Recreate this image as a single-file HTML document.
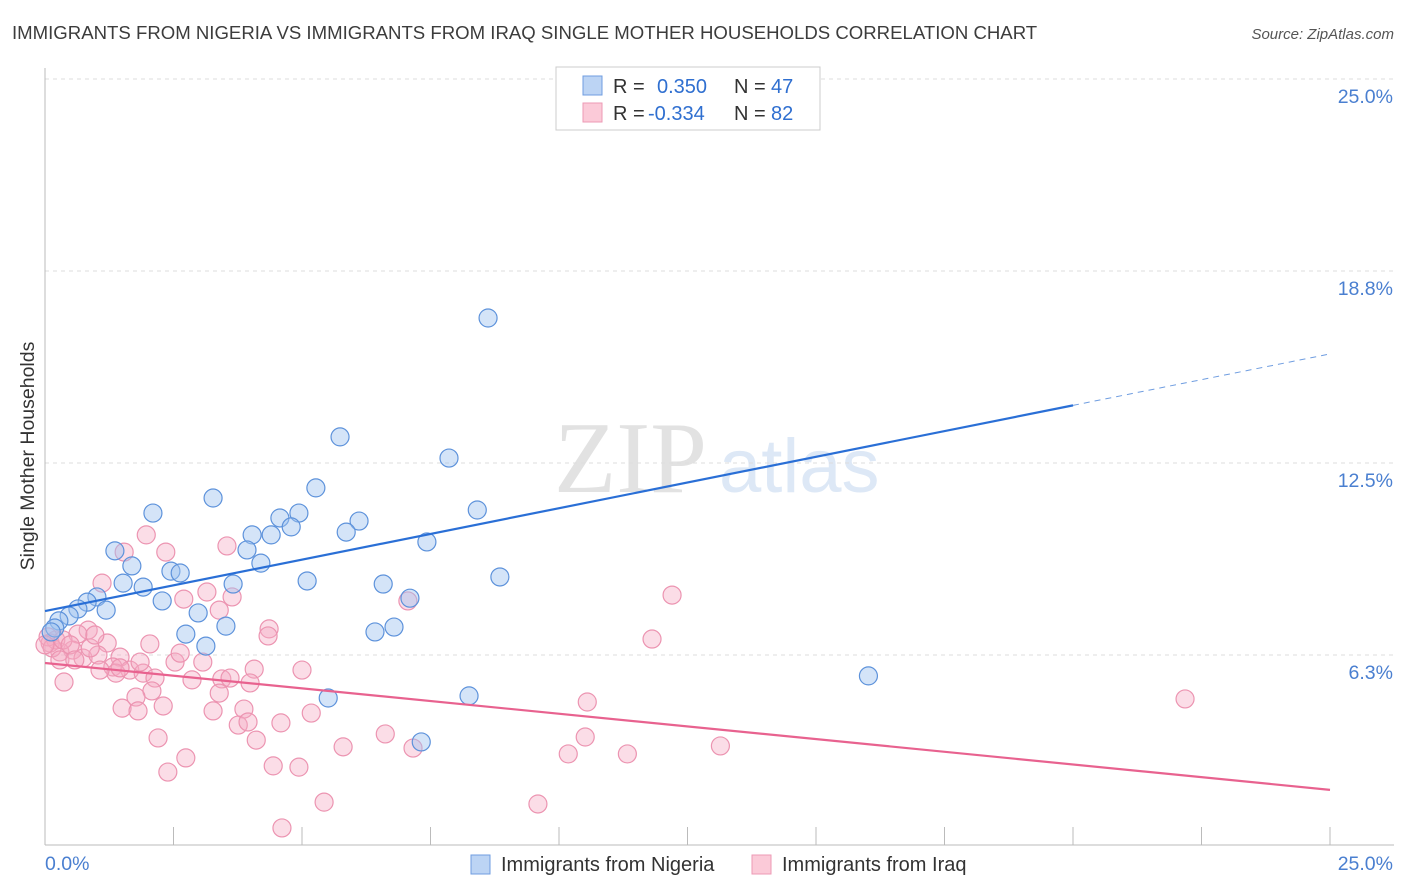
<!DOCTYPE html>
<html><head><meta charset="utf-8"><style>
body{margin:0;background:#fff;font-family:"Liberation Sans",sans-serif}
svg{display:block}
</style></head><body>
<svg id="c" width="1406" height="892">
<text x="12" y="39" font-size="18.6" fill="#3c3c3c">IMMIGRANTS FROM NIGERIA VS IMMIGRANTS FROM IRAQ SINGLE MOTHER HOUSEHOLDS CORRELATION CHART</text>
<text x="1394" y="39" font-size="15" fill="#555" font-style="italic" text-anchor="end">Source: ZipAtlas.com</text>
<g><text x="554" y="492" font-size="102" fill="#e2e2e2" font-family="Liberation Serif,serif">ZIP</text><text x="719" y="492" font-size="76" fill="#dde8f6">atlas</text></g>
<g id="grid"></g>
<g id="pts"></g>
<g id="lines"></g>
<text x="34" y="456" font-size="19.5" fill="#333" text-anchor="middle" transform="rotate(-90 34 456)">Single Mother Households</text>
<g>
<rect x="556" y="67" width="264" height="63" fill="#fff" stroke="#ccc"/>
<rect x="583" y="76" width="19" height="19" fill="#bcd4f4" stroke="#6f9de0"/>
<rect x="583" y="103" width="19" height="19" fill="#fbcad8" stroke="#ec9ab5"/>
<text x="613" y="93" font-size="20" fill="#333">R =</text>
<text x="657" y="93" font-size="20" fill="#2f6fd0">0.350</text>
<text x="734" y="93" font-size="20" fill="#333">N =</text>
<text x="771" y="93" font-size="20" fill="#2f6fd0">47</text>
<text x="613" y="120" font-size="20" fill="#333">R =</text>
<text x="648" y="120" font-size="20" fill="#2f6fd0">-0.334</text>
<text x="734" y="120" font-size="20" fill="#333">N =</text>
<text x="771" y="120" font-size="20" fill="#2f6fd0">82</text>
</g>
<g>
<rect x="471" y="855" width="19" height="19" fill="#bcd4f4" stroke="#6f9de0"/>
<text x="501" y="871" font-size="20" fill="#333">Immigrants from Nigeria</text>
<rect x="752" y="855" width="19" height="19" fill="#fbcad8" stroke="#ec9ab5"/>
<text x="782" y="871" font-size="20" fill="#333">Immigrants from Iraq</text>
</g>
</svg>
<script>
const yTicks=[25.0,18.8,12.5,6.3];
const yTickVals=[25,18.75,12.5,6.25];
const xLabels=["0.0%","25.0%"];
const nigeriaX=[8.62,5.74,7.86,3.27,5.27,2.10,4.94,4.57,4.79,4.03,4.40,6.11,8.41,5.86,7.43,1.36,3.93,4.20,1.69,2.45,2.63,1.52,1.91,3.66,5.10,6.58,8.85,2.28,1.01,0.82,0.64,1.19,2.98,0.47,0.27,0.19,0.12,3.52,7.10,6.79,6.42,2.74,3.13,5.51,8.25,7.32,16.02];
const nigeriaY=[17.22,13.35,12.66,11.36,11.69,10.87,10.87,10.71,10.42,10.16,10.16,10.61,10.97,10.25,9.93,9.64,9.67,9.24,9.15,8.98,8.92,8.59,8.46,8.56,8.66,8.56,8.79,8.01,8.14,7.97,7.75,7.71,7.62,7.52,7.36,7.13,7.00,7.19,8.10,7.16,7.00,6.93,6.54,4.85,4.92,3.42,5.57];
const iraqX=[1.97,1.54,2.35,1.11,3.54,2.70,3.15,3.39,3.64,4.36,4.34,2.04,0.84,0.64,1.21,0.54,0.29,0.10,0.74,1.03,1.46,1.32,1.65,1.91,2.14,1.38,0.37,2.53,2.63,3.07,2.86,3.44,3.60,4.07,3.99,5.00,2.08,1.77,1.50,1.81,2.30,3.39,3.27,3.87,3.76,3.95,4.59,5.18,2.20,4.11,2.74,2.39,4.44,4.94,5.43,4.61,6.62,7.16,5.80,10.55,10.51,10.18,11.33,13.14,9.59,12.20,11.81,22.18,7.06,0.21,0.06,0.14,0.00,0.35,0.49,0.88,0.97,0.29,0.58,1.07,1.46,1.85];
const iraqY=[10.16,9.60,9.60,8.59,9.80,8.07,8.30,7.71,8.14,7.10,6.87,6.61,7.06,6.93,6.64,6.41,6.35,6.64,6.15,6.25,6.18,5.86,5.76,5.66,5.50,5.66,5.37,6.02,6.31,6.02,5.44,5.47,5.50,5.79,5.34,5.76,5.08,4.88,4.52,4.43,4.59,5.01,4.43,4.49,3.97,4.07,4.04,4.36,3.55,3.48,2.90,2.44,2.64,2.60,1.46,0.62,3.68,3.22,3.26,4.72,3.58,3.03,3.03,3.29,1.40,8.20,6.77,4.82,8.01,6.74,6.84,6.48,6.58,6.74,6.58,6.48,6.90,6.09,6.09,5.76,5.83,6.02];
const nigeriaTrend=[7.68,16.05];
const iraqTrend=[5.99,1.86];
const nigeriaSolidEnd=20.0;

const X=v=>45+v/25*1285;
const Y=v=>847-v/6.25*192;
const NS="http://www.w3.org/2000/svg";
function mk(t,a,p){const e=document.createElementNS(NS,t);for(const k in a)e.setAttribute(k,a[k]);p.appendChild(e);return e;}
const grid=document.getElementById('grid');
yTickVals.forEach((v,i)=>{
  const l=mk('line',{x1:45,x2:1394,y1:Y(v),y2:Y(v),stroke:'#ddd','stroke-dasharray':'4,4'},grid);
  
  
  const t=mk('text',{x:1393,y:Y(v)+24,'font-size':19.5,fill:'#4a7fd0','text-anchor':'end'},grid);
  t.textContent=yTicks[i].toFixed(1)+'%';
  
  
});
const ax=mk('line',{x1:45,x2:45,y1:68,y2:845,stroke:'#bbb'},grid);


const bx=mk('line',{x1:45,x2:1394,y1:845,y2:845,stroke:'#bbb'},grid);


for(let i=1;i<=10;i++){
  const tk=mk('line',{x1:X(i*2.5),x2:X(i*2.5),y1:827,y2:845,stroke:'#bbb'},grid);
  
  
}
const xl0=mk('text',{x:45,y:870,'font-size':19.5,fill:'#4a7fd0'},grid);xl0.textContent=xLabels[0];


const xl1=mk('text',{x:1393,y:870,'font-size':19.5,fill:'#4a7fd0','text-anchor':'end'},grid);xl1.textContent=xLabels[1];


const pts=document.getElementById('pts');
iraqX.forEach((x,i)=>{
  const c=mk('circle',{cx:X(x),cy:Y(iraqY[i]),r:9,fill:'rgba(246,170,195,0.4)',stroke:'#ec94b1','stroke-width':1.2},pts);
  
  
});
nigeriaX.forEach((x,i)=>{
  const c=mk('circle',{cx:X(x),cy:Y(nigeriaY[i]),r:9,fill:'rgba(160,196,240,0.45)',stroke:'#5d92db','stroke-width':1.2},pts);
  
  
});
const lines=document.getElementById('lines');
const ty=(tr,x)=>tr[0]+(tr[1]-tr[0])*x/25;
const l1=mk('line',{x1:X(0),y1:Y(nigeriaTrend[0]),x2:X(nigeriaSolidEnd),y2:Y(ty(nigeriaTrend,nigeriaSolidEnd)),stroke:'#2a6fd6','stroke-width':2.2},lines);


const l2=mk('line',{x1:X(nigeriaSolidEnd),y1:Y(ty(nigeriaTrend,nigeriaSolidEnd)),x2:X(25),y2:Y(nigeriaTrend[1]),stroke:'#6f9de0','stroke-width':1,'stroke-dasharray':'6,5'},lines);


const l3=mk('line',{x1:X(0),y1:Y(iraqTrend[0]),x2:X(25),y2:Y(iraqTrend[1]),stroke:'#e8628f','stroke-width':2.2},lines);


</script>
</body></html>
